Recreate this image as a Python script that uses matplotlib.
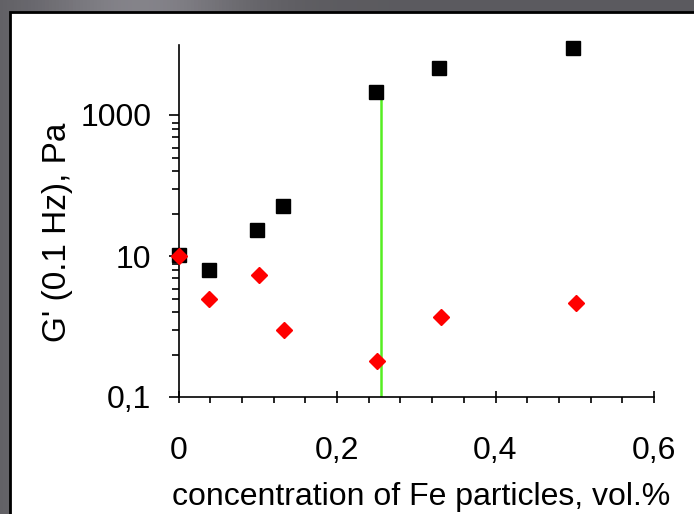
import numpy as np
import matplotlib.pyplot as plt
from matplotlib.patches import Rectangle
from matplotlib.ticker import FixedLocator, NullFormatter

plt.rcParams['font.family'] = ['Liberation Sans', 'DejaVu Sans']

# data
conc_g = [0.0, 0.038, 0.099, 0.132, 0.249, 0.329, 0.498]
g_black = [10.5, 6.4, 23.7, 51, 2140, 4660, 9040]
conc_r = [0.0, 0.039, 0.101, 0.133, 0.251, 0.331, 0.501]
g_red = [9.9, 2.48, 5.3, 0.886, 0.324, 1.37, 2.12]
green_x = [0.255, 0.255]
green_y = [0.1, 2050]

y_major = [0.1, 10, 1000]
y_labels = ['0,1', '10', '1000']
y_minor_mult = [3.9, 8.9, 16.2, 24.5, 34, 48, 64, 78]
x_major = [0, 0.2, 0.4, 0.6]
x_labels = ['0', '0,2', '0,4', '0,6']

fig = plt.figure(figsize=(6.94, 5.14), dpi=100)

# dark grey frame behind the white panel
bg = fig.add_axes([0, 0, 1, 1], zorder=-2)
gx = np.linspace(0, 1, 200)
grad = 0.36 + 0.16 * np.exp(-((gx - 0.2) / 0.15) ** 2)
img = np.tile(grad, (20, 1))
bg.imshow(np.dstack([img, img * 0.99, img * 1.04]).clip(0, 1), aspect='auto',
          extent=[0, 1, 0, 1])
bg.set_axis_off()
fig.add_artist(Rectangle((10 / 694, -0.01), 1.0, (514 - 12) / 514 + 0.01,
                         transform=fig.transFigure, facecolor='white',
                         edgecolor='black', linewidth=2, zorder=-1))

ax = fig.add_axes([178.5 / 694, 117 / 514, 475.5 / 694, 352.5 / 514])
ax.patch.set_alpha(0)

ax.plot(green_x, green_y, color='#55ee22', linewidth=1.8, zorder=1)
ax.plot(conc_g, g_black, linestyle='none', marker='s', markersize=10,
        color='black', zorder=3, clip_on=False)
ax.plot(conc_r, g_red, linestyle='none', marker='D', markersize=8.5,
        color='red', zorder=4, clip_on=False)

ax.set_yscale('log')
ax.set_xlim(0, 0.6)
ax.set_ylim(0.1, 10000)

ax.set_xticks(x_major)
ax.set_xticklabels(x_labels)
ax.set_xticks(np.arange(0, 0.6001, 0.04), minor=True)
ax.yaxis.set_major_locator(FixedLocator(y_major))
ax.set_yticklabels(y_labels)
minors = [b * m for b in [0.1, 10] for m in y_minor_mult]
ax.yaxis.set_minor_locator(FixedLocator(minors))
ax.yaxis.set_minor_formatter(NullFormatter())

ax.tick_params(axis='x', which='major', direction='inout', length=8,
               width=1.2, labelsize=23, pad=24)
ax.tick_params(axis='x', which='minor', direction='out', length=4.5, width=1.2)
ax.tick_params(axis='y', which='major', direction='out', length=7.5,
               width=1.2, labelsize=23, pad=12)
ax.tick_params(axis='y', which='minor', direction='out', length=5, width=1.2)

for s in ['top', 'right']:
    ax.spines[s].set_visible(False)
for s in ['left', 'bottom']:
    ax.spines[s].set_linewidth(1.2)

ax.set_xlabel('concentration of Fe particles, vol.%', fontsize=23)
ax.xaxis.set_label_coords(0.51, -0.285)
ax.xaxis.label.set_va('center')
ax.set_ylabel("G' (0.1 Hz), Pa", fontsize=24)
ax.yaxis.set_label_coords(-0.2555, 0.468)
ax.yaxis.label.set_va('center')

fig.savefig('out.png', dpi=100)
